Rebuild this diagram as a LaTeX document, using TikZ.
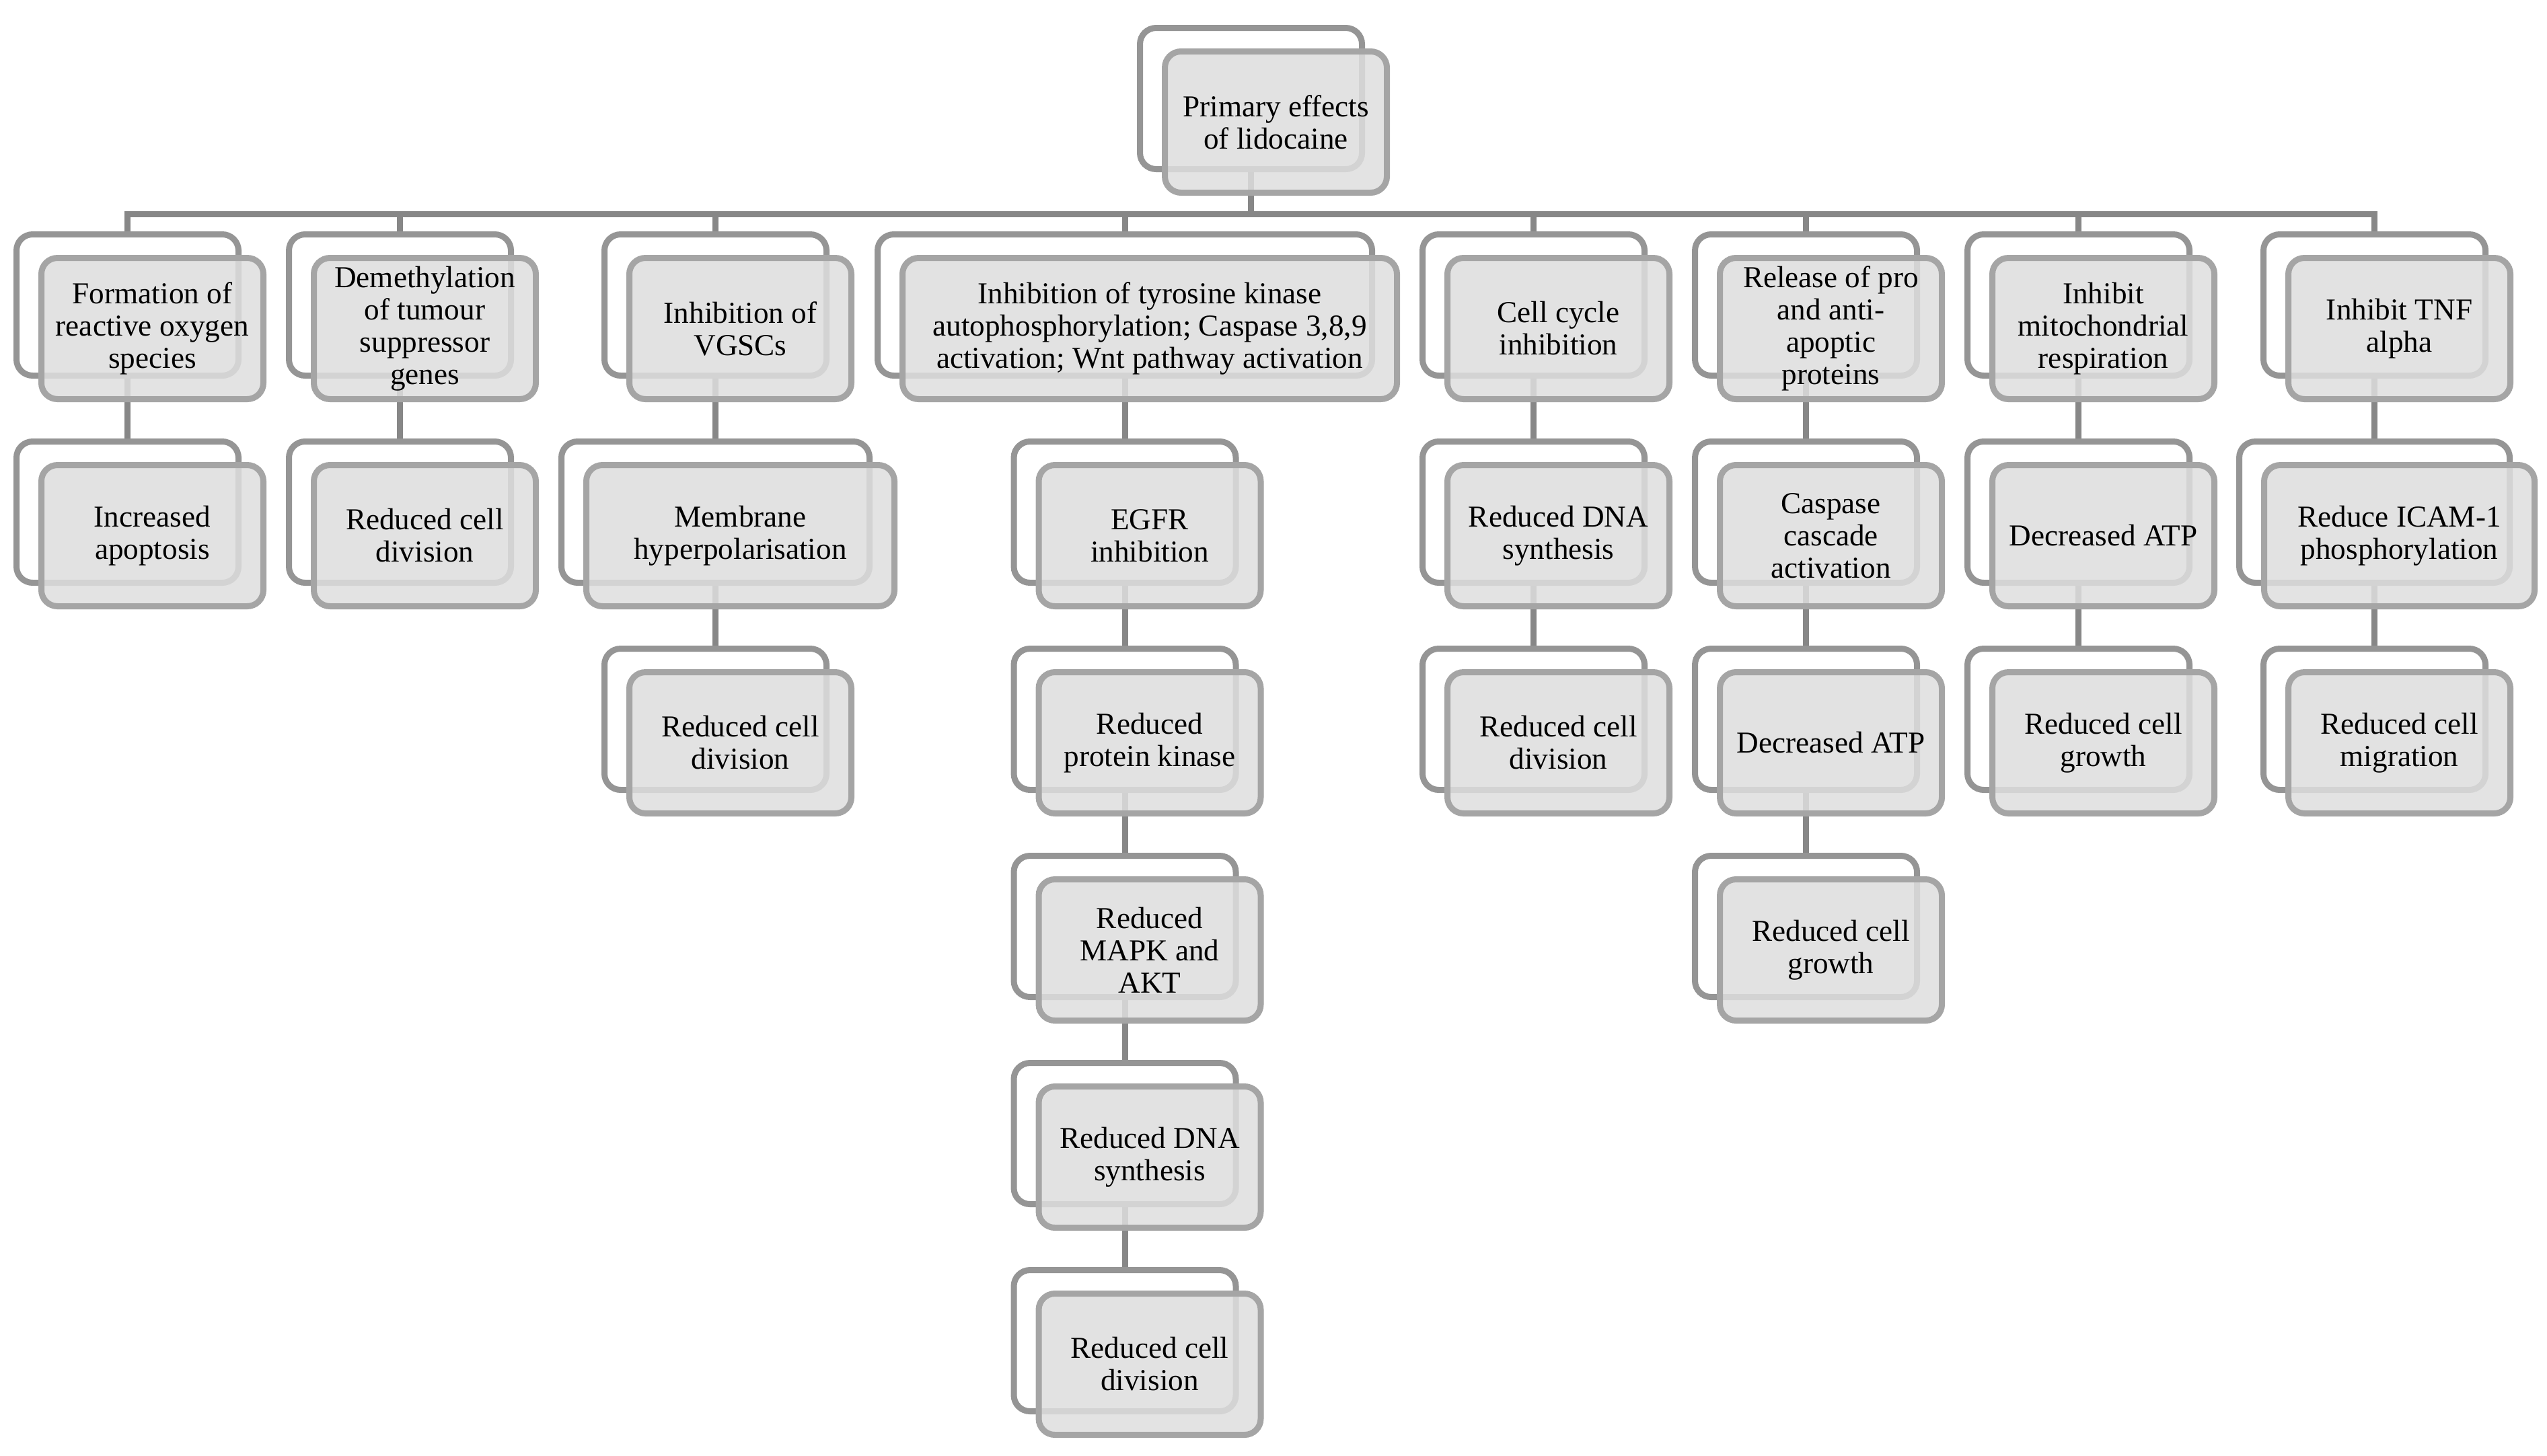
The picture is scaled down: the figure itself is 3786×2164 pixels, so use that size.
\documentclass[tikz,border=0pt]{standalone}
\usepackage{fontspec}
\setmainfont{Liberation Serif}
\definecolor{backline}{HTML}{959595}
\definecolor{frontline}{HTML}{A5A5A5}
\definecolor{frontfill}{HTML}{DEDEDE}
\definecolor{linkgray}{HTML}{878787}
\begin{document}
\begin{tikzpicture}[x=0.25pt,y=-0.25pt,
    back/.style={draw=backline, line width=2.25pt, rounded corners=6pt, fill=white,
      minimum width=82.5pt, minimum height=52.5pt, inner sep=0pt},
    front/.style={draw=frontline, line width=2.25pt, rounded corners=6pt,
      fill=frontfill, fill opacity=0.85, text opacity=1,
      minimum width=82.5pt, minimum height=52.5pt, inner sep=0pt,
      align=center, font=\fontsize{11.3}{12}\selectfont},
    link/.style={draw=linkgray, line width=2.25pt}]
  \useasboundingbox (0,0) rectangle (3786,2164);
  % back frames
  \node[back] (root) at (1859.5,146.5) {};
  \node[back] (a1) at (189.5,453.5) {};
  \node[back] (a2) at (189.5,761.5) {};
  \node[back] (b1) at (594.5,453.5) {};
  \node[back] (b2) at (594.5,761.5) {};
  \node[back] (c1) at (1063.5,453.5) {};
  \node[back, minimum width=114.5pt] (c2) at (1063.5,761.5) {};
  \node[back] (c3) at (1063.5,1069.5) {};
  \node[back, minimum width=183.75pt] (d1) at (1672,453.5) {};
  \node[back] (d2) at (1672,761.5) {};
  \node[back] (d3) at (1672,1069.5) {};
  \node[back] (d4) at (1672,1377.5) {};
  \node[back] (d5) at (1672,1685.5) {};
  \node[back] (d6) at (1672,1993.5) {};
  \node[back] (e1) at (2279.5,453.5) {};
  \node[back] (e2) at (2279.5,761.5) {};
  \node[back] (e3) at (2279.5,1069.5) {};
  \node[back] (f1) at (2684.5,453.5) {};
  \node[back] (f2) at (2684.5,761.5) {};
  \node[back] (f3) at (2684.5,1069.5) {};
  \node[back] (f4) at (2684.5,1377.5) {};
  \node[back] (g1) at (3089.5,453.5) {};
  \node[back] (g2) at (3089.5,761.5) {};
  \node[back] (g3) at (3089.5,1069.5) {};
  \node[back] (h1) at (3529.5,453.5) {};
  \node[back, minimum width=100.5pt] (h2) at (3529.5,761.5) {};
  \node[back] (h3) at (3529.5,1069.5) {};
  % connectors
  \foreach \n in {a1,b1,c1,d1,e1,f1,g1,h1}
    \draw[link] (root.south) -- ++(0,62) -| (\n.north);
  \draw[link] (a1) -- (a2);
  \draw[link] (b1) -- (b2);
  \draw[link] (c1) -- (c2);
  \draw[link] (c2) -- (c3);
  \draw[link] (d1) -- (d2);
  \draw[link] (d2) -- (d3);
  \draw[link] (d3) -- (d4);
  \draw[link] (d4) -- (d5);
  \draw[link] (d5) -- (d6);
  \draw[link] (e1) -- (e2);
  \draw[link] (e2) -- (e3);
  \draw[link] (f1) -- (f2);
  \draw[link] (f2) -- (f3);
  \draw[link] (f3) -- (f4);
  \draw[link] (g1) -- (g2);
  \draw[link] (g2) -- (g3);
  \draw[link] (h1) -- (h2);
  \draw[link] (h2) -- (h3);
  % front cards
  \node[front] (roott) at (1896.5,181.5) {Primary effects\\of lidocaine};
  \node[front] (a1t) at (226.5,488.5) {Formation of\\reactive oxygen\\species};
  \node[front] (a2t) at (226.5,796.5) {Increased\\apoptosis};
  \node[front] (b1t) at (631.5,488.5) {Demethylation\\of tumour\\suppressor\\genes};
  \node[front] (b2t) at (631.5,796.5) {Reduced cell\\division};
  \node[front] (c1t) at (1100.5,488.5) {Inhibition of\\VGSCs};
  \node[front, minimum width=114.5pt] (c2t) at (1100.5,796.5) {Membrane\\hyperpolarisation};
  \node[front] (c3t) at (1100.5,1104.5) {Reduced cell\\division};
  \node[front, minimum width=183.75pt] (d1t) at (1709,488.5) {Inhibition of tyrosine kinase\\autophosphorylation; Caspase 3,8,9\\activation; Wnt pathway activation};
  \node[front] (d2t) at (1709,796.5) {EGFR\\inhibition};
  \node[front] (d3t) at (1709,1104.5) {Reduced\\protein kinase};
  \node[front] (d4t) at (1709,1412.5) {Reduced\\MAPK and\\AKT};
  \node[front] (d5t) at (1709,1720.5) {Reduced DNA\\synthesis};
  \node[front] (d6t) at (1709,2028.5) {Reduced cell\\division};
  \node[front] (e1t) at (2316.5,488.5) {Cell cycle\\inhibition};
  \node[front] (e2t) at (2316.5,796.5) {Reduced DNA\\synthesis};
  \node[front] (e3t) at (2316.5,1104.5) {Reduced cell\\division};
  \node[front] (f1t) at (2721.5,488.5) {Release of pro\\and anti-\\apoptic\\proteins};
  \node[front] (f2t) at (2721.5,796.5) {Caspase\\cascade\\activation};
  \node[front] (f3t) at (2721.5,1104.5) {Decreased ATP};
  \node[front] (f4t) at (2721.5,1412.5) {Reduced cell\\growth};
  \node[front] (g1t) at (3126.5,488.5) {Inhibit\\mitochondrial\\respiration};
  \node[front] (g2t) at (3126.5,796.5) {Decreased ATP};
  \node[front] (g3t) at (3126.5,1104.5) {Reduced cell\\growth};
  \node[front] (h1t) at (3566.5,488.5) {Inhibit TNF\\alpha};
  \node[front, minimum width=100.5pt] (h2t) at (3566.5,796.5) {Reduce ICAM-1\\phosphorylation};
  \node[front] (h3t) at (3566.5,1104.5) {Reduced cell\\migration};
\end{tikzpicture}
\end{document}
